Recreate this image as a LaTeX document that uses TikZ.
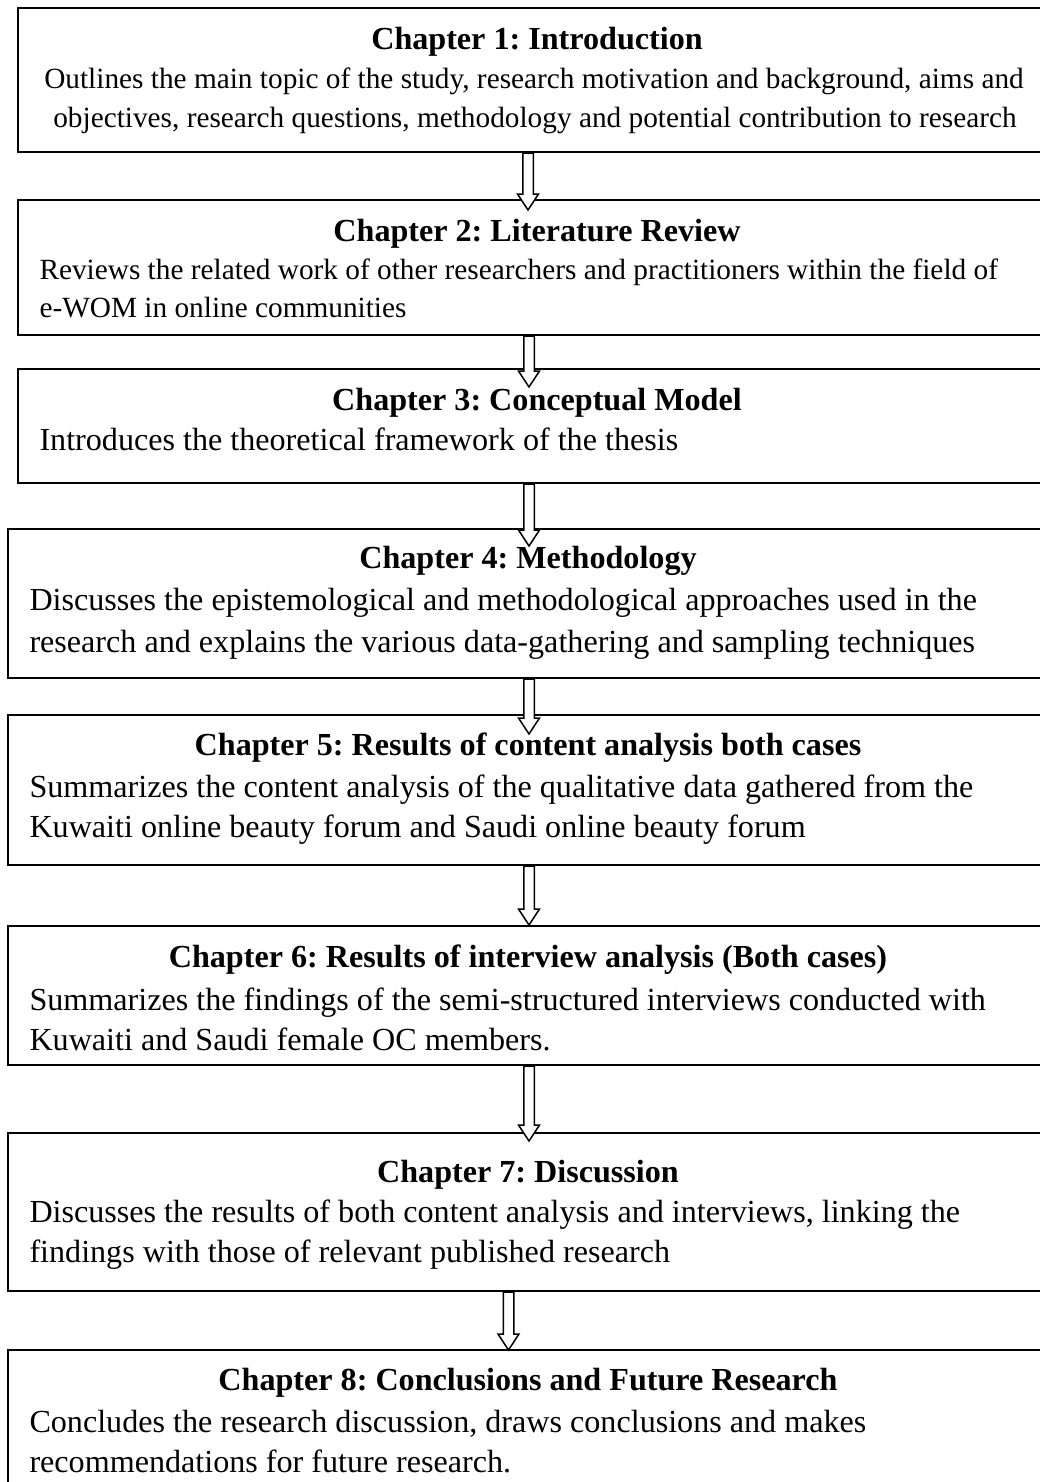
\documentclass[tikz,border=0pt]{standalone}
\usepackage{fontspec}
\setmainfont{Liberation Serif}
\usetikzlibrary{fit,calc}
\frenchspacing

\tikzset{
  chbox/.style={draw=black, line width=0.8pt, inner sep=0pt, fill=none},
  chtitle/.style={anchor=base, inner sep=0pt,
    font=\fontsize{12.85pt}{15.6pt}\selectfont\bfseries},
  smalltext/.style={font=\fontsize{11.72pt}{15.6pt}\selectfont},
  largetext/.style={font=\fontsize{12.85pt}{16pt}\selectfont},
  chline/.style={anchor=base west, inner sep=0pt},
  chcentre/.style={anchor=base, inner sep=0pt},
  % hollow block arrow from a start point down to a tip point
  blockarrow/.style={draw=black, line width=0.6pt, fill=white,
    to path={let \p1=(\tikztostart), \p2=(\tikztotarget) in
      (\x1-2.1pt,\y1) -- (\x1-2.1pt,\y2+6.4pt) -- (\x1-4.2pt,\y2+6.4pt)
      -- (\x1,\y2) -- (\x1+4.2pt,\y2+6.4pt) -- (\x1+2.1pt,\y2+6.4pt)
      -- (\x1+2.1pt,\y1) -- cycle}},
}

\begin{document}
\begin{tikzpicture}[x=0.4pt, y=-0.4pt]
\useasboundingbox (0,0) rectangle (1040,1482);

% chapter boxes
\node[chbox, fit={(18,8) (1056,152)}] (b1) {};
\node[chbox, fit={(18,200) (1056,335)}] (b2) {};
\node[chbox, fit={(18,369) (1056,483)}] (b3) {};
\node[chbox, fit={(8,529) (1048,678)}] (b4) {};
\node[chbox, fit={(8,715) (1048,865)}] (b5) {};
\node[chbox, fit={(8,926) (1048,1065)}] (b6) {};
\node[chbox, fit={(8,1133) (1048,1291)}] (b7) {};
\node[chbox, fit={(8,1350) (1048,1520)}] (b8) {};

% chapter 1
\node[chtitle] (t1) at (537,49) {Chapter 1: Introduction};
\node[chcentre, smalltext] (d1a) at (534,88) {Outlines the main topic of the study, research motivation and background, aims and};
\node[chcentre, smalltext] (d1b) at (535,127) {objectives, research questions, methodology and potential contribution to research};

% chapter 2
\node[chtitle] (t2) at (537,241) {Chapter 2: Literature Review};
\node[chline, smalltext] (d2a) at (39,279) {Reviews the related work of other researchers and practitioners within the field of};
\node[chline, smalltext] (d2b) at (39,317) {e-WOM in online communities};

% chapter 3
\node[chtitle] (t3) at (537,410) {Chapter 3: Conceptual Model};
\node[chline, largetext] (d3a) at (39,450) {Introduces the theoretical framework of the thesis};

% chapter 4
\node[chtitle] (t4) at (528,568) {Chapter 4: Methodology};
\node[chline, largetext] (d4a) at (29,610) {Discusses the epistemological and methodological approaches used in the};
\node[chline, largetext] (d4b) at (29,652) {research and explains the various data-gathering and sampling techniques};

% chapter 5
\node[chtitle] (t5) at (528,755) {Chapter 5: Results of content analysis both cases};
\node[chline, largetext] (d5a) at (29,797) {Summarizes the content analysis of the qualitative data gathered from the};
\node[chline, largetext] (d5b) at (29,837) {Kuwaiti online beauty forum and Saudi online beauty forum};

% chapter 6
\node[chtitle] (t6) at (528,967) {Chapter 6: Results of interview analysis (Both cases)};
\node[chline, largetext] (d6a) at (29,1010) {Summarizes the findings of the semi-structured interviews conducted with};
\node[chline, largetext] (d6b) at (29,1050) {Kuwaiti and Saudi female OC members.};

% chapter 7
\node[chtitle] (t7) at (528,1182) {Chapter 7: Discussion};
\node[chline, largetext] (d7a) at (29,1222) {Discusses the results of both content analysis and interviews, linking the};
\node[chline, largetext] (d7b) at (29,1262) {findings with those of relevant published research};

% chapter 8
\node[chtitle] (t8) at (528,1390) {Chapter 8: Conclusions and Future Research};
\node[chline, largetext] (d8a) at (29,1432) {Concludes the research discussion, draws conclusions and makes};
\node[chline, largetext] (d8b) at (29,1472) {recommendations for future research.};

% arrow columns and tips
\coordinate (ax1) at (528,0);
\coordinate (ax) at (529,0);
\coordinate (ax7) at (508.5,0);
\coordinate (tip1) at ($(b2.north -| ax1)+(0,11)$);
\coordinate (tip2) at ($(b3.north -| ax)+(0,19)$);
\coordinate (tip3) at ($(b4.north -| ax)+(0,18)$);
\coordinate (tip4) at ($(b5.north -| ax)+(0,20)$);
\coordinate (tip5) at ($(b6.north -| ax)+(0,0)$);
\coordinate (tip6) at ($(b7.north -| ax)+(0,9)$);
\coordinate (tip7) at ($(b8.north -| ax7)+(0,1)$);

% connecting arrows
\path[blockarrow] (b1.south -| ax1) to (tip1);
\path[blockarrow] (b2.south -| ax) to (tip2);
\path[blockarrow] (b3.south -| ax) to (tip3);
\path[blockarrow] (b4.south -| ax) to (tip4);
\path[blockarrow] (b5.south -| ax) to (tip5);
\path[blockarrow] (b6.south -| ax) to (tip6);
\path[blockarrow] (b7.south -| ax7) to (tip7);
\end{tikzpicture}
\end{document}
